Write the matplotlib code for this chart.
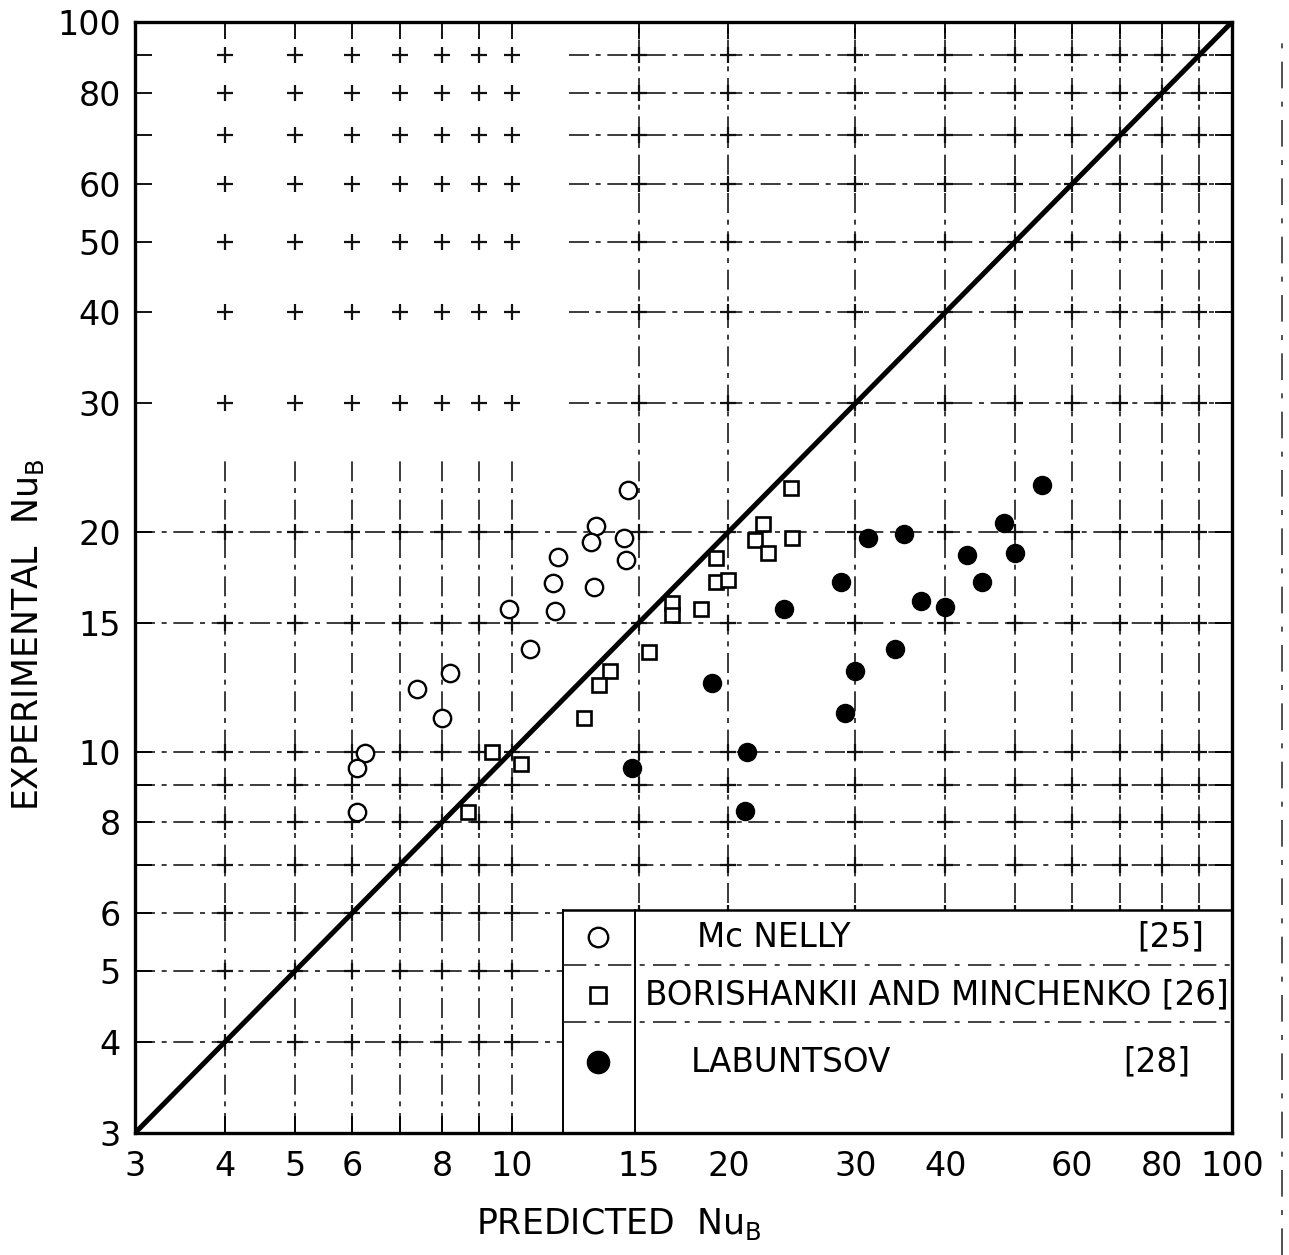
import numpy as np
import matplotlib
matplotlib.use('Agg')
import matplotlib.pyplot as plt
from matplotlib.ticker import FixedLocator, FixedFormatter, NullFormatter
from matplotlib.patches import Rectangle
from matplotlib.lines import Line2D

# McNelly [25]
mcnelly_pred = [14.5, 13.1, 12.9, 14.3, 11.6, 14.4, 11.4, 13.0, 9.9, 11.5,
                10.6, 8.2, 7.4, 8.0, 6.25, 6.1, 6.1]
mcnelly_exp = [22.8, 20.4, 19.4, 19.6, 18.5, 18.3, 17.0, 16.8, 15.7, 15.6,
               13.8, 12.8, 12.2, 11.1, 9.95, 9.5, 8.25]

# Borishankii and Minchenko [26]
borish_pred = [24.4, 22.3, 21.8, 24.5, 22.7, 19.2, 19.2, 20.0, 16.7, 16.7,
               18.3, 15.5, 13.7, 13.2, 12.6, 9.4, 10.3, 8.7]
borish_exp = [23.0, 20.5, 19.5, 19.6, 18.7, 18.4, 17.1, 17.2, 16.0, 15.4,
              15.7, 13.7, 12.9, 12.35, 11.1, 10.0, 9.6, 8.25]

# Labuntsov [28]
labun_pred = [54.5, 48.3, 31.2, 35.0, 49.9, 42.9, 28.7, 45.0, 37.0, 39.9,
              23.9, 34.1, 30.0, 19.0, 29.0, 21.2, 14.7, 21.1]
labun_exp = [23.2, 20.6, 19.6, 19.9, 18.7, 18.6, 17.1, 17.1, 16.1, 15.8,
             15.7, 13.8, 12.9, 12.4, 11.3, 10.0, 9.5, 8.3]

# axis ticks and graph-paper rulings
x_ticks = [3, 4, 5, 6, 8, 10, 15, 20, 30, 40, 60, 80, 100]
y_ticks = [3, 4, 5, 6, 8, 10, 15, 20, 30, 40, 50, 60, 80, 100]
x_grid = [4, 5, 6, 7, 8, 9, 10, 15, 20, 30, 40, 50, 60, 70, 80, 90]
y_grid = [4, 5, 6, 7, 8, 9, 10, 15, 20, 30, 40, 50, 60, 70, 80, 90]

legend_rows = [('Mc NELLY', '[25]'),
               ('BORISHANKII AND MINCHENKO', '[26]'),
               ('LABUNTSOV', '[28]')]

plt.rcParams['font.family'] = ['DejaVu Sans']

fig = plt.figure(figsize=(12.89, 12.55), dpi=100)
ax = fig.add_axes([135 / 1289, 1 - 1133 / 1255, 1097 / 1289, 1111 / 1255])
ax.set_xscale('log')
ax.set_yscale('log')
ax.set_xlim(3, 100)
ax.set_ylim(3, 100)

dash = (0, (12, 4, 3, 4))
gkw = dict(color='#1a1a1a', lw=1.2, linestyle=dash, zorder=1)

# vertical rulings: the small-x ones fade out in the upper region
for gx in x_grid:
    top = 25 if gx <= 10 else 100
    ax.plot([gx, gx], [3, top], **gkw)
# horizontal rulings: upper ones only start right of x = 12
for gy in y_grid:
    left = 3 if gy <= 20 else 12
    ax.plot([left, 100], [gy, gy], **gkw)

gxx, gyy = np.meshgrid(x_grid, y_grid)
ax.plot(gxx.ravel(), gyy.ravel(), '+', color='#111111', ms=11, mew=1.6,
        zorder=1.5)

# line of perfect agreement
ax.plot([3, 100], [3, 100], color='black', lw=3.6, zorder=3,
        solid_capstyle='butt')

mk = dict(linestyle='none', zorder=4)
ax.plot(mcnelly_pred, mcnelly_exp, marker='o', ms=12.5, mfc='white',
        mec='black', mew=1.7, **mk)
ax.plot(borish_pred, borish_exp, marker='s', ms=10.5, mfc='white',
        mec='black', mew=1.9, **mk)
ax.plot(labun_pred, labun_exp, marker='o', ms=13, mfc='black',
        mec='black', mew=1.0, **mk)

# key box in the lower right corner
lx0, lx1, ltop = 0.390, 0.456, 0.2007
row_lines = [0.1512, 0.0999]
ax.add_patch(Rectangle((lx0, 0), 1 - lx0, ltop, transform=ax.transAxes,
                       facecolor='white', edgecolor='none', zorder=5))
ax.plot([lx0, 1], [ltop, ltop], transform=ax.transAxes, color='black',
        lw=1.8, zorder=6)
ax.plot([lx0, lx0], [0, ltop], transform=ax.transAxes, color='black',
        lw=1.4, zorder=6)
ax.plot([lx1, lx1], [0, ltop], transform=ax.transAxes, color='black',
        lw=1.4, zorder=6)
for ry in row_lines:
    ax.plot([lx0, 1], [ry, ry], transform=ax.transAxes, color='#222222',
            lw=1.2, linestyle=(0, (14, 5, 3, 5)), zorder=6)

row_y = [0.1764, 0.1242, 0.0639]
mx = 0.422
ax.plot(mx, row_y[0], marker='o', ms=14, mfc='white', mec='black', mew=1.7,
        transform=ax.transAxes, zorder=7)
ax.plot(mx, row_y[1], marker='s', ms=11.5, mfc='white', mec='black', mew=1.9,
        transform=ax.transAxes, zorder=7)
ax.plot(mx, row_y[2], marker='o', ms=16, mfc='black', mec='black',
        transform=ax.transAxes, zorder=7)

tkw = dict(transform=ax.transAxes, fontsize=23.5, va='center', zorder=7)
ax.text(0.512, row_y[0], legend_rows[0][0], ha='left', **tkw)
ax.text(0.975, row_y[0], legend_rows[0][1], ha='right', **tkw)
ax.text(0.465, row_y[1], legend_rows[1][0] + ' ' + legend_rows[1][1],
        ha='left', **tkw)
ax.text(0.507, row_y[2], legend_rows[2][0], ha='left', **tkw)
ax.text(0.962, row_y[2], legend_rows[2][1], ha='right', **tkw)

# ticks and labels
ax.xaxis.set_major_locator(FixedLocator(x_ticks))
ax.xaxis.set_major_formatter(FixedFormatter([str(v) for v in x_ticks]))
ax.yaxis.set_major_locator(FixedLocator(y_ticks))
ax.yaxis.set_major_formatter(FixedFormatter([str(v) for v in y_ticks]))
ax.xaxis.set_minor_locator(FixedLocator([v for v in x_grid if v not in x_ticks]))
ax.yaxis.set_minor_locator(FixedLocator([v for v in y_grid if v not in y_ticks]))
ax.xaxis.set_minor_formatter(NullFormatter())
ax.yaxis.set_minor_formatter(NullFormatter())
ax.tick_params(which='both', direction='in', length=12, width=1.3,
               top=True, right=True, labelsize=24, zorder=8)
ax.tick_params(axis='x', pad=12)
ax.tick_params(axis='y', pad=10)

for sp in ax.spines.values():
    sp.set_linewidth(2.4)
    sp.set_zorder(9)

fig.text(619 / 1289, 1 - 1224 / 1255, 'PREDICTED  Nu$_\\mathrm{B}$',
         ha='center', va='center', fontsize=25)
fig.text(28 / 1289, 1 - 635 / 1255, 'EXPERIMENTAL  Nu$_\\mathrm{B}$',
         ha='center', va='center', fontsize=25, rotation=90)

# ruled edge of the page on the far right
fig.add_artist(Line2D([1282 / 1289, 1282 / 1289], [0, 1 - 40 / 1255],
                      transform=fig.transFigure, color='#333333', lw=1.2,
                      linestyle=(0, (16, 8, 3, 8))))

fig.savefig('out.png', dpi=100)
